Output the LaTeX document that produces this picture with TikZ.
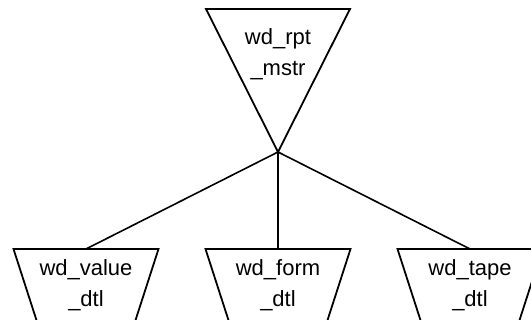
\documentclass[tikz,border=0pt]{standalone}
\usepackage{fontspec}
\setmainfont{Liberation Sans}
\usetikzlibrary{calc}

\begin{document}
\begin{tikzpicture}[x=1pt, y=-1pt,
    tbl/.style={align=center, inner sep=0pt, anchor=north, font=\fontsize{22}{31}\selectfont},
    outline/.style={draw, line width=1.8pt, line join=miter},
    link/.style={draw, line width=1.6pt}
]
    \useasboundingbox (0,0) rectangle (531,320);
    \clip (0,0) rectangle (531,320);

    % Master table (inverted triangle)
    \coordinate (apex) at (278,152);
    \draw[outline] (206,9) -- (350,9) -- (apex) -- cycle;
    \node[tbl] (mstr) at (278,28) {wd\_rpt\\\_mstr};

    % Detail tables, cut off by the page edge
    \foreach \name/\x/\txt in {value/86/wd\_value, form/278/wd\_form, tape/470/wd\_tape}{
        \coordinate (\name top) at (\x,249);
        \draw[outline] (\x-41.5,345) -- (\x-72.5,249) -- (\x+72.5,249) -- (\x+41.5,345);
        \node[tbl] (\name) at (\x,259) {\txt\\\_dtl};
    }

    % Links from master to details
    \foreach \name in {value,form,tape}
        \draw[link] (apex) -- (\name top);

\end{tikzpicture}
\end{document}
